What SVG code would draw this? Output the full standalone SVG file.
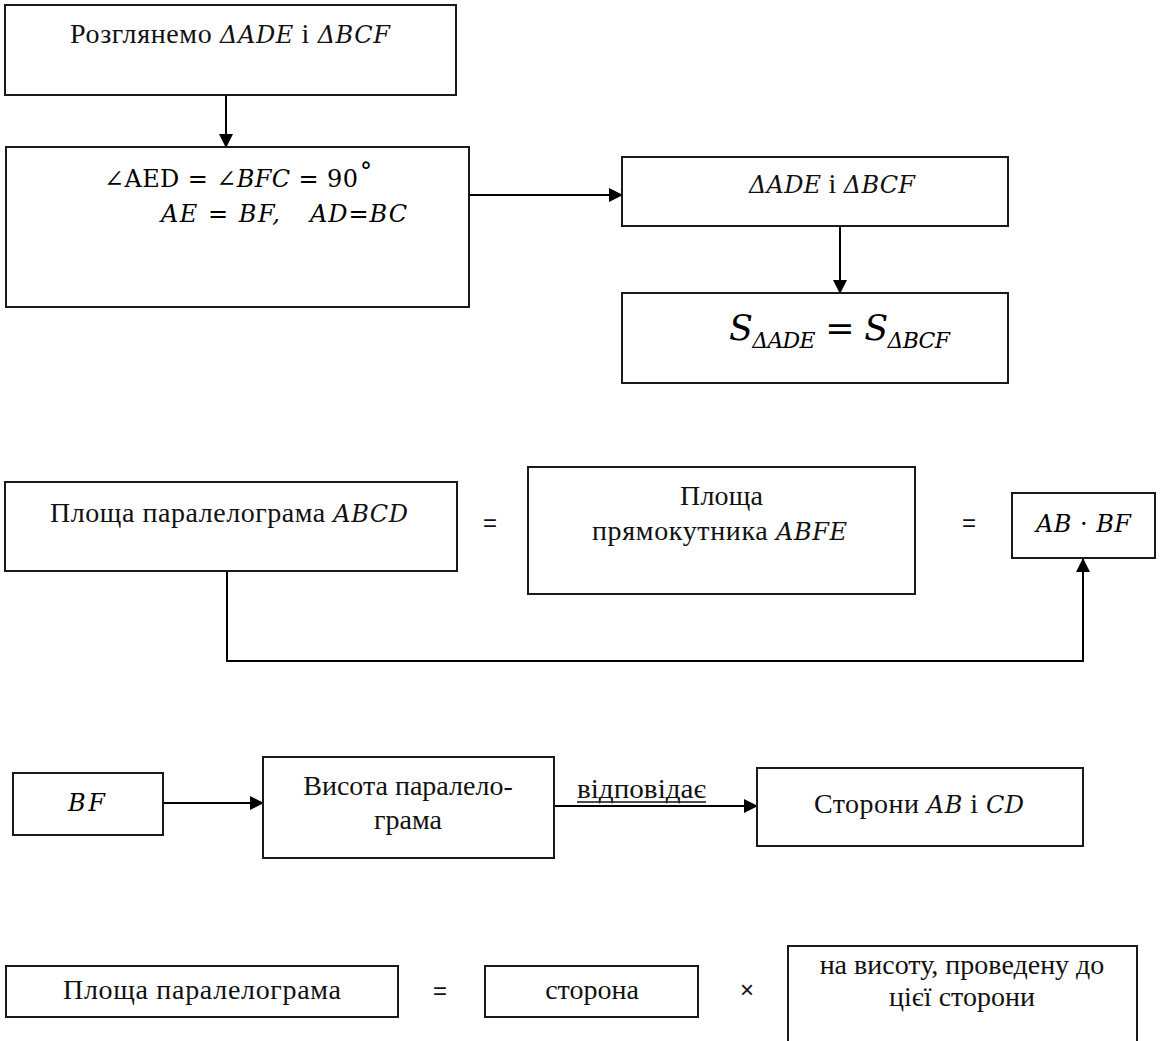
<svg xmlns="http://www.w3.org/2000/svg" width="1163" height="1041" viewBox="0 0 1163 1041">
<defs>
<style>
.box{fill:#fff;stroke:#1a1a1a;stroke-width:2}
.t{font-family:"Liberation Serif","Times New Roman",serif;font-size:28px;fill:#111}
.m{font-family:"DejaVu Serif",serif;font-style:italic;font-size:24px}
.mu{font-family:"DejaVu Serif",serif;font-style:normal;font-size:24px}
.c{text-anchor:middle}
.s{font-family:"Liberation Sans",Arial,sans-serif;font-size:24px;fill:#111;text-anchor:middle}
.ln{fill:none;stroke:#000;stroke-width:2}
</style>
<marker id="ah" markerUnits="userSpaceOnUse" markerWidth="14" markerHeight="14" refX="13" refY="7" orient="auto">
<path d="M0,0 L14,7 L0,14 z" fill="#000"/>
</marker>
</defs>
<rect width="1163" height="1041" fill="#fff"/>

<g id="connectors">
<line class="ln" x1="226" y1="96" x2="226" y2="147" marker-end="url(#ah)"/>
<line class="ln" x1="469" y1="195" x2="622" y2="195" marker-end="url(#ah)"/>
<line class="ln" x1="840" y1="226" x2="840" y2="293" marker-end="url(#ah)"/>
<polyline class="ln" points="227,571 227,661 1083,661 1083,559" marker-end="url(#ah)"/>
<line class="ln" x1="163" y1="803" x2="263" y2="803" marker-end="url(#ah)"/>
<line class="ln" x1="554" y1="806" x2="757" y2="806" marker-end="url(#ah)"/>
<g id="label-vidpovidae">
<text class="t" x="577" y="798" textLength="129" lengthAdjust="spacingAndGlyphs">відповідає</text>
<line x1="577" y1="802" x2="706" y2="802" stroke="#111" stroke-width="1.5"/>
</g>
</g>

<g id="n1">
<rect class="box" x="5" y="5" width="451" height="90"/>
<text class="t" x="70" y="43" textLength="320">Розглянемо <tspan class="m">ΔADE</tspan> і <tspan class="m">ΔBCF</tspan></text>
</g>

<g id="n2">
<rect class="box" x="6" y="147" width="463" height="160"/>
<text class="mu" x="104" y="187" textLength="254">∠AED = ∠<tspan class="m">BFC</tspan> = 90</text>
<text class="mu" x="360" y="180" font-size="11">°</text>
<text class="m" x="161" y="222" textLength="119">AE <tspan class="mu">=</tspan> BF,</text>
<text class="m" x="310" y="222" textLength="97">AD<tspan class="mu">=</tspan>BC</text>
</g>

<g id="n3">
<rect class="box" x="622" y="157" width="386" height="69"/>
<text class="t" x="749" y="193" textLength="166"><tspan class="m">ΔADE</tspan> і <tspan class="m">ΔBCF</tspan></text>
</g>

<g id="n4">
<rect class="box" x="622" y="293" width="386" height="90"/>
<text class="m" x="729" y="340" textLength="221" style="font-size:35px">S<tspan dy="8" font-size="22">ΔADE</tspan><tspan class="mu" dy="-8" style="font-size:35px"> = </tspan>S<tspan dy="8" font-size="22">ΔBCF</tspan></text>
</g>

<g id="n5">
<rect class="box" x="5" y="482" width="452" height="89"/>
<text class="t" x="50" y="522" textLength="358">Площа паралелограма <tspan class="m">ABCD</tspan></text>
</g>
<text class="s" x="490" y="531">=</text>

<g id="n6">
<rect class="box" x="528" y="467" width="387" height="127"/>
<text class="t" x="680" y="505" textLength="83">Площа</text>
<text class="t" x="592" y="540" textLength="255">прямокутника <tspan class="m">ABFE</tspan></text>
</g>
<text class="s" x="969" y="531">=</text>

<g id="n7">
<rect class="box" x="1012" y="493" width="143" height="65"/>
<text class="m" x="1036" y="532" textLength="95">AB <tspan class="mu">·</tspan> BF</text>
</g>

<g id="n8">
<rect class="box" x="13" y="773" width="150" height="62"/>
<text class="m" x="68" y="811" textLength="37">BF</text>
</g>

<g id="n9">
<rect class="box" x="263" y="757" width="291" height="101"/>
<text class="t c" x="408" y="795">Висота паралело-</text>
<text class="t c" x="408" y="829">грама</text>
</g>

<g id="n10">
<rect class="box" x="757" y="768" width="326" height="78"/>
<text class="t" x="814" y="813" textLength="210">Сторони <tspan class="m">AB</tspan> і <tspan class="m">CD</tspan></text>
</g>

<g id="n11">
<rect class="box" x="6" y="966" width="392" height="51"/>
<text class="t" x="63" y="999" textLength="278">Площа паралелограма</text>
</g>
<text class="s" x="440" y="999">=</text>

<g id="n12">
<rect class="box" x="485" y="966" width="213" height="51"/>
<text class="t c" x="592" y="999">сторона</text>
</g>
<text class="s" x="747" y="998">×</text>

<g id="n13">
<rect class="box" x="788" y="946" width="349" height="110"/>
<text class="t c" x="962" y="974">на висоту, проведену до</text>
<text class="t c" x="962" y="1006">цієї сторони</text>
</g>
</svg>
